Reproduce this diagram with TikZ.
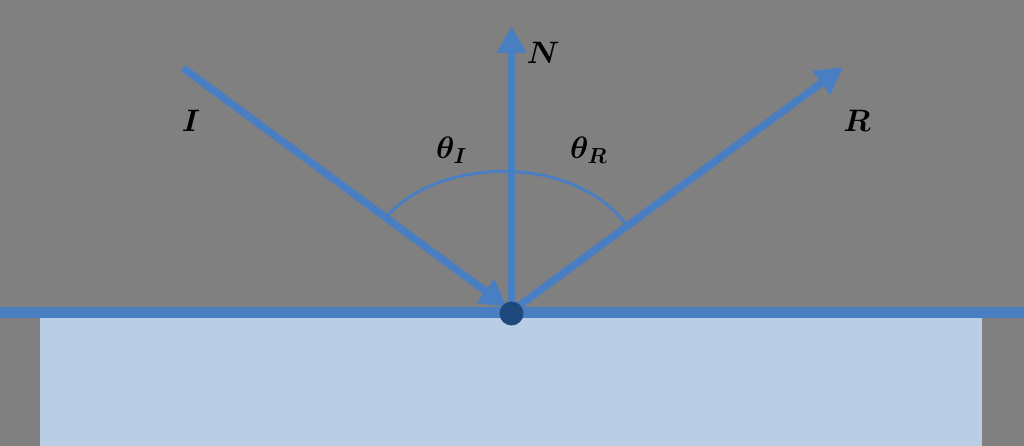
\RequirePackage{fix-cm}
\documentclass[tikz,border=0pt]{standalone}
\usepackage{amsmath,amsbsy}
\usetikzlibrary{arrows.meta}
\definecolor{bg}{HTML}{808080}
\definecolor{ray}{HTML}{4A7EC2}
\definecolor{glass}{HTML}{B9CDE5}
\definecolor{dotc}{HTML}{1F497D}
\tikzset{
  raystyle/.style={draw=ray, line width=7.5pt, -{Triangle[length=27pt,width=28pt]}},
  lbl/.style={font=\fontsize{31}{36}\selectfont, text=black, inner sep=0pt}
}
\begin{document}
\begin{tikzpicture}[x=1pt,y=-1pt]
\fill[bg] (0,0) rectangle (1024,446);
\useasboundingbox (0,0) rectangle (1024,446);
\fill[glass] (40,318) rectangle (982,446);
\draw[ray, line width=11pt] (0,312.5) -- (1024,312.5);
% angle arc
\draw[ray, line width=3pt] (388,215) .. controls (440,158) and (570,153) .. (625,223);
% rays
\coordinate (Is) at (183,68);
\coordinate (It) at (507,307);
\coordinate (Ns) at (511.5,306);
\coordinate (Nt) at (511.5,26);
\coordinate (Rs) at (516,308);
\coordinate (Rt) at (843,67);
\draw[raystyle] (Is) -- (It);
\draw[raystyle] (Ns) -- (Nt);
\draw[raystyle] (Rs) -- (Rt);
\node[circle, fill=dotc, minimum size=24pt, inner sep=0pt] (O) at (511.5,313.5) {};
% labels
\node[lbl] (lI) at (191,121) {$\boldsymbol{I}$};
\node[lbl] (lN) at (543,52.5) {$\boldsymbol{N}$};
\node[lbl] (lR) at (857,121) {$\boldsymbol{R}$};
\node[lbl, anchor=west] (tI) at (436,150) {$\boldsymbol{\theta_I}$};
\node[lbl, anchor=west] (tR) at (570,150) {$\boldsymbol{\theta_R}$};
\end{tikzpicture}
\end{document}
